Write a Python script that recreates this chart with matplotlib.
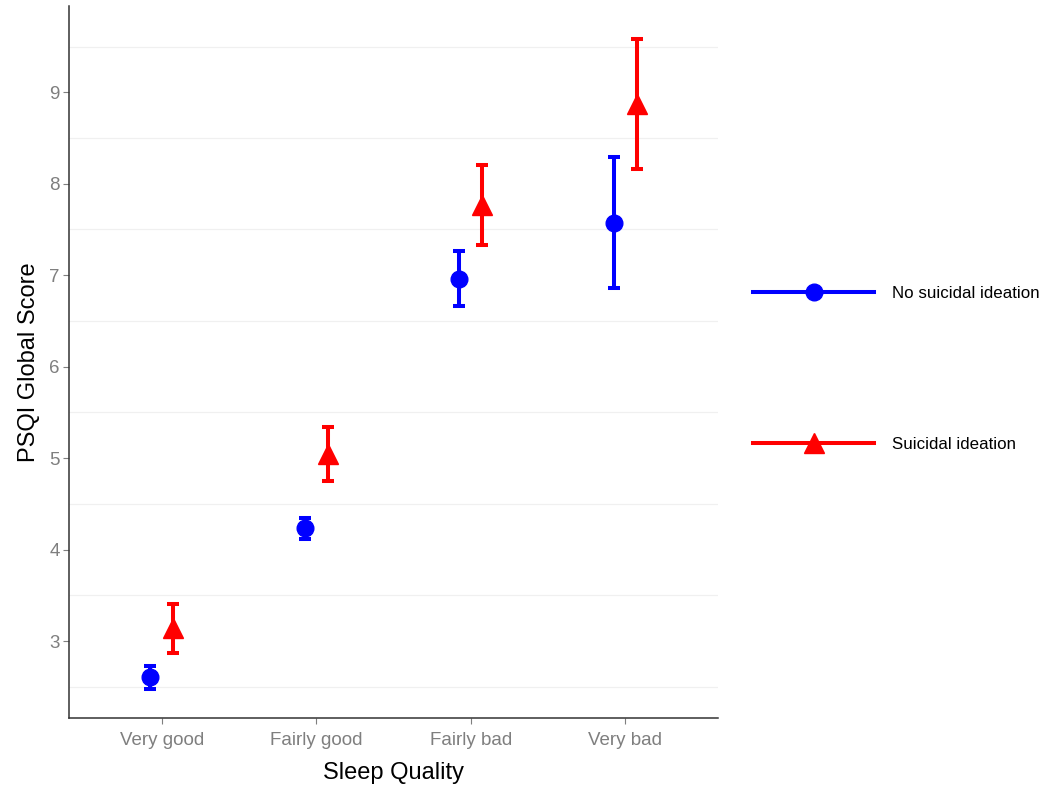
import numpy as np
import matplotlib.pyplot as plt
from matplotlib.lines import Line2D

plt.rcParams['font.family'] = ['Liberation Sans', 'DejaVu Sans']

# data
categories = ["Very good", "Fairly good", "Fairly bad", "Very bad"]
no_si_mean = [2.605, 4.235, 6.96, 7.575]
no_si_lo = [2.48, 4.12, 6.66, 6.86]
no_si_hi = [2.73, 4.35, 7.26, 8.29]
si_mean = [3.14, 5.045, 7.77, 8.87]
si_lo = [2.87, 4.75, 7.33, 8.16]
si_hi = [3.41, 5.34, 8.21, 9.58]
labels = ["No suicidal ideation", "Suicidal ideation"]

fig = plt.figure(figsize=(10.48, 7.91), dpi=100)
ax = fig.add_axes([69 / 1048, 1 - 718 / 791, (718 - 69) / 1048, (718 - 6) / 791])

x = np.arange(1, len(categories) + 1)
dodge = 0.075

groups = [
    (no_si_mean, no_si_lo, no_si_hi, "blue", "o", 12, -dodge),
    (si_mean, si_lo, si_hi, "red", "^", 14.5, dodge),
]
handles = []
for (m, lo, hi, col, mk, ms, off), lab in zip(groups, labels):
    m = np.array(m)
    yerr = [m - np.array(lo), np.array(hi) - m]
    ax.errorbar(x + off, m, yerr=yerr, fmt=mk, color=col, ms=ms,
                elinewidth=2.9, capsize=4.5, capthick=2.9, zorder=3)
    handles.append(Line2D([], [], color=col, lw=2.9, marker=mk, ms=ms, label=lab))

ax.set_xlim(0.4, 4.6)
ax.set_ylim(2.158, 9.944)
ax.set_xticks(x)
ax.set_xticklabels(categories)
ax.set_yticks(range(3, 10))
ax.set_yticks(np.arange(2.5, 10, 1), minor=True)
ax.grid(which="minor", axis="y", color="#f0f0f0", lw=0.9)
ax.tick_params(which="minor", length=0)
ax.tick_params(which="major", colors="#7f7f7f", labelsize=13.5, length=4, width=0.8)
ax.tick_params(axis="x", pad=6.0)
ax.tick_params(axis="y", pad=2.5)
for t in ax.get_xticklabels() + ax.get_yticklabels():
    t.set_color("#7f7f7f")
for s in ["top", "right"]:
    ax.spines[s].set_visible(False)
for s in ["left", "bottom"]:
    ax.spines[s].set_linewidth(1.1)
    ax.spines[s].set_color("#333333")
ax.set_axisbelow(True)

ax.set_xlabel("Sleep Quality", fontsize=17, labelpad=9.5)
ax.set_ylabel("PSQI Global Score", fontsize=17, labelpad=7)

fig.legend(handles=handles, loc="center left", bbox_to_anchor=(745 / 1048, 1 - 369 / 791),
           frameon=False, fontsize=12.2, handlelength=7.1, handletextpad=1.05,
           labelspacing=8.0, borderpad=0)

fig.savefig("out.png", dpi=100, facecolor="white")
